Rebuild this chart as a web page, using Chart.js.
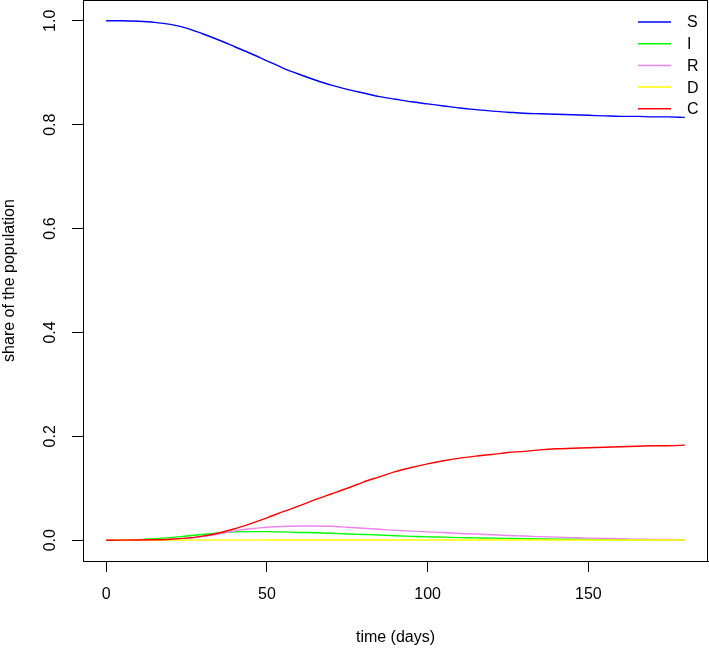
<!DOCTYPE html>
<html>
<head>
<meta charset="utf-8">
<script src="https://cdn.jsdelivr.net/npm/chart.js@4.4.1/dist/chart.umd.min.js"></script>
<style>
  body { margin: 0; background: #fff; }
  canvas { display: block; }
</style>
</head>
<body>
<canvas id="chart-area" width="709" height="648"></canvas>
<script>
// days sampled every 5 days
var days = [0,5,10,15,20,25,30,35,40,45,50,55,60,65,70,75,80,85,90,95,100,105,110,115,120,125,130,135,140,145,150,155,160,165,170,175,180];

var susceptible = [1.000,1.000,0.999,0.997,0.993,0.986,0.975,0.963,0.950,0.937,0.923,0.909,0.897,0.886,0.876,0.868,0.861,0.854,0.849,0.844,0.840,0.836,0.832,0.829,0.826,0.824,0.822,0.821,0.820,0.819,0.818,0.817,0.816,0.816,0.815,0.815,0.814];
var infected = [0,0.0005,0.001,0.003,0.005,0.008,0.011,0.014,0.016,0.0165,0.0165,0.016,0.015,0.0145,0.0135,0.012,0.011,0.010,0.0085,0.0075,0.0065,0.006,0.005,0.0045,0.004,0.0035,0.003,0.0025,0.002,0.002,0.0015,0.0013,0.001,0.001,0.0008,0.0007,0.0006];
var recovered = [0,0.0001,0.0003,0.001,0.002,0.004,0.007,0.012,0.018,0.022,0.025,0.0265,0.0275,0.0275,0.027,0.025,0.023,0.021,0.019,0.0175,0.016,0.015,0.013,0.012,0.0105,0.009,0.008,0.007,0.006,0.005,0.004,0.0035,0.003,0.002,0.0017,0.0013,0.001];
var dead = [0,0,0,0,0.0001,0.0001,0.0001,0.0002,0.0002,0.0002,0.0003,0.0003,0.0003,0.0003,0.0003,0.0003,0.0003,0.0003,0.0003,0.0003,0.0003,0.0003,0.0003,0.0003,0.0003,0.0003,0.0003,0.0003,0.0003,0.0003,0.0003,0.0003,0.0003,0.0003,0.0003,0.0003,0.0003];
var cases = [0,0.0002,0.0005,0.001,0.002,0.004,0.008,0.014,0.022,0.032,0.043,0.055,0.066,0.078,0.089,0.100,0.112,0.122,0.132,0.140,0.147,0.153,0.158,0.162,0.165,0.169,0.171,0.174,0.176,0.177,0.178,0.179,0.180,0.181,0.182,0.182,0.183];

var xTicks = [0, 50, 100, 150];
var yTicks = [0, 0.2, 0.4, 0.6, 0.8, 1.0];
var yTickLabels = ['0.0', '0.2', '0.4', '0.6', '0.8', '1.0'];

var seriesNames = ['S', 'I', 'R', 'D', 'C'];
var seriesColors = ['#0000ff', '#00ff00', '#ee82ee', '#ffff00', '#ff0000'];
var seriesValues = [susceptible, infected, recovered, dead, cases];

var FONT = '"Liberation Sans", Arial, sans-serif';

function toPoints(vals) {
	return vals.map(function (v, i) { return { x: days[i], y: v }; });
}

var datasets = seriesValues.map(function (vals, i) {
	return {
		label: seriesNames[i],
		data: toPoints(vals),
		borderColor: seriesColors[i],
		backgroundColor: seriesColors[i],
		borderWidth: 1.4,
		pointRadius: 0,
		fill: false,
		cubicInterpolationMode: 'monotone',
		order: seriesNames.length - i
	};
});

// box round the plot, rotated y labels, legend in the corner
var rBase = {
	id: 'rBase',
	afterDatasetsDraw: function (chart) {
		var ctx = chart.ctx;
		var a = chart.chartArea;
		ctx.save();
		ctx.strokeStyle = '#000';
		ctx.lineWidth = 1;
		ctx.strokeRect(a.left + 0.5, a.top + 0.5, a.right - a.left - 1, a.bottom - a.top);

		var ys = chart.scales.y;
		ctx.fillStyle = '#000';
		ctx.font = '16px ' + FONT;
		ctx.textAlign = 'center';
		ctx.textBaseline = 'middle';
		yTicks.forEach(function (v, i) {
			ctx.save();
			ctx.translate(51, ys.getPixelForValue(v));
			ctx.rotate(-Math.PI / 2);
			ctx.fillText(yTickLabels[i], 0, 0);
			ctx.restore();
		});

		ctx.textAlign = 'left';
		chart.data.datasets.forEach(function (ds, i) {
			var y = 22 + i * 21.7;
			ctx.strokeStyle = ds.borderColor;
			ctx.lineWidth = 1.5;
			ctx.beginPath();
			ctx.moveTo(638, y);
			ctx.lineTo(671, y);
			ctx.stroke();
			ctx.fillText(ds.label, 687, y + 1);
		});
		ctx.restore();
	}
};

var config = {
	type: 'line',
	data: { datasets: datasets },
	options: {
		responsive: false,
		animation: false,
		layout: { padding: { top: 0, right: 1, left: 0, bottom: 0 } },
		plugins: {
			legend: { display: false },
			tooltip: { enabled: false }
		},
		scales: {
			x: {
				type: 'linear',
				min: -7.2,
				max: 187.2,
				afterBuildTicks: function (s) { s.ticks = xTicks.map(function (v) { return { value: v }; }); },
				afterFit: function (s) { s.height = 87; },
				grid: { display: true, drawOnChartArea: false, drawTicks: true, tickLength: 11, color: '#000' },
				border: { display: true, color: '#000' },
				ticks: { color: '#000', font: { family: FONT, size: 16 }, padding: 13, maxRotation: 0 },
				title: { display: true, text: 'time (days)', color: '#000', font: { family: FONT, size: 16 }, padding: { top: 0, bottom: 1 } }
			},
			y: {
				type: 'linear',
				min: -0.04,
				max: 1.04,
				afterBuildTicks: function (s) { s.ticks = yTicks.map(function (v) { return { value: v }; }); },
				afterFit: function (s) { s.width = 83; },
				grid: { display: true, drawOnChartArea: false, drawTicks: true, tickLength: 11, color: '#000' },
				border: { display: true, color: '#000' },
				ticks: { display: false },
				title: { display: true, text: 'share of the population', color: '#000', font: { family: FONT, size: 16 }, padding: 0 }
			}
		}
	},
	plugins: [rBase]
};

window.onload = function () {
	var ctx = document.getElementById('chart-area').getContext('2d');
	window.sirChart = new Chart(ctx, config);
};
</script>
</body>
</html>
